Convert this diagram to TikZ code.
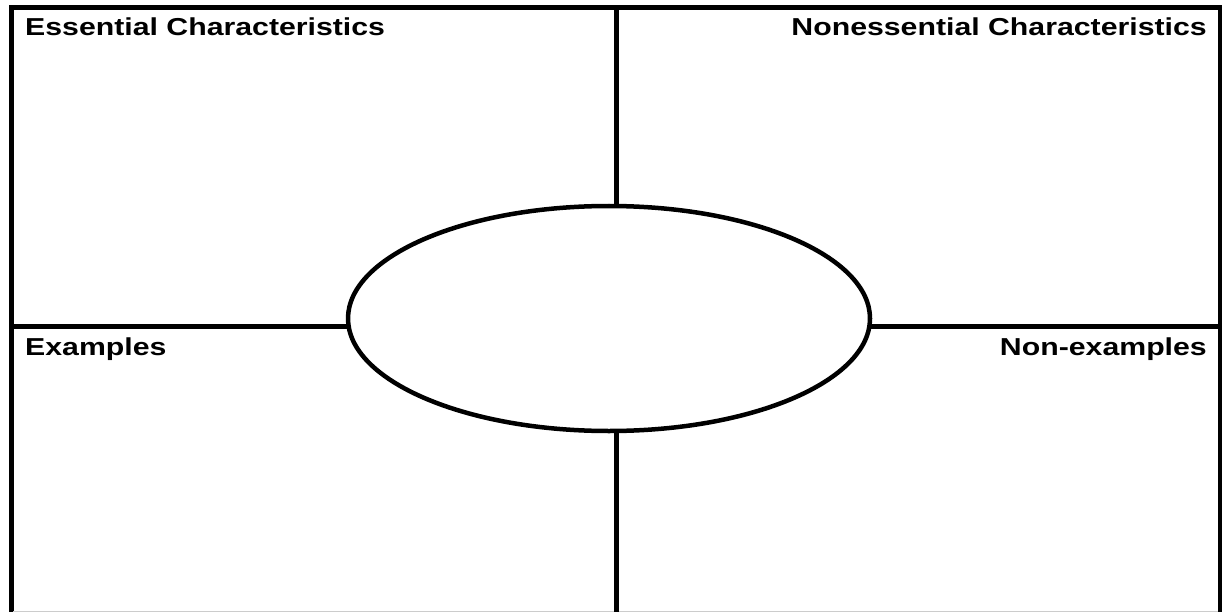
\documentclass[tikz,border=0pt]{standalone}
\usepackage{fontspec}
\setmainfont{Liberation Sans}
\newfontfamily\labfont[FakeStretch=1.235]{Liberation Sans}
\usetikzlibrary{shapes.geometric}
\begin{document}
\begin{tikzpicture}[x=1pt,y=-1pt,
  frame/.style={line width=5pt,line cap=rect},
  divider/.style={line width=5pt},
  label/.style={font=\labfont\fontsize{24.5}{27}\selectfont\bfseries,inner sep=0pt}]
\useasboundingbox (0,0) rectangle (1222,612);
\fill[white] (0,0) rectangle (1222,612);
% outer frame (open at bottom)
\coordinate (bl) at (11,614);
\coordinate (tl) at (11,8);
\coordinate (tr) at (1220,8);
\coordinate (br) at (1220,614);
\draw[frame] (bl) -- (tl) -- (tr) -- (br);
\draw[gray!40,line width=0.8pt] (13,611.5) -- (1218,611.5);
% central ellipse
\node[draw,ellipse,line width=4.5pt,minimum width=522pt,minimum height=225pt,inner sep=0pt] (c) at (609,318.5) {};
% dividers
\coordinate (vt) at (616,8);
\coordinate (vte) at (616,205);
\coordinate (vb) at (616,614);
\coordinate (vbe) at (616,432);
\coordinate (hl) at (11,326.5);
\coordinate (hle) at (347,326.5);
\coordinate (hr) at (1220,326.5);
\coordinate (hre) at (871,326.5);
\draw[divider] (vt) -- (vte);
\draw[divider] (vbe) -- (vb);
\draw[divider] (hl) -- (hle);
\draw[divider] (hre) -- (hr);
% labels
\node[label,anchor=base west] (ess) at (25,35.5) {Essential Characteristics};
\node[label,anchor=base east] (non) at (1207,35.5) {Nonessential Characteristics};
\node[label,anchor=base west] (ex) at (25,355.5) {Examples};
\node[label,anchor=base east] (nex) at (1207,355.5) {Non-examples};
\end{tikzpicture}
\end{document}
